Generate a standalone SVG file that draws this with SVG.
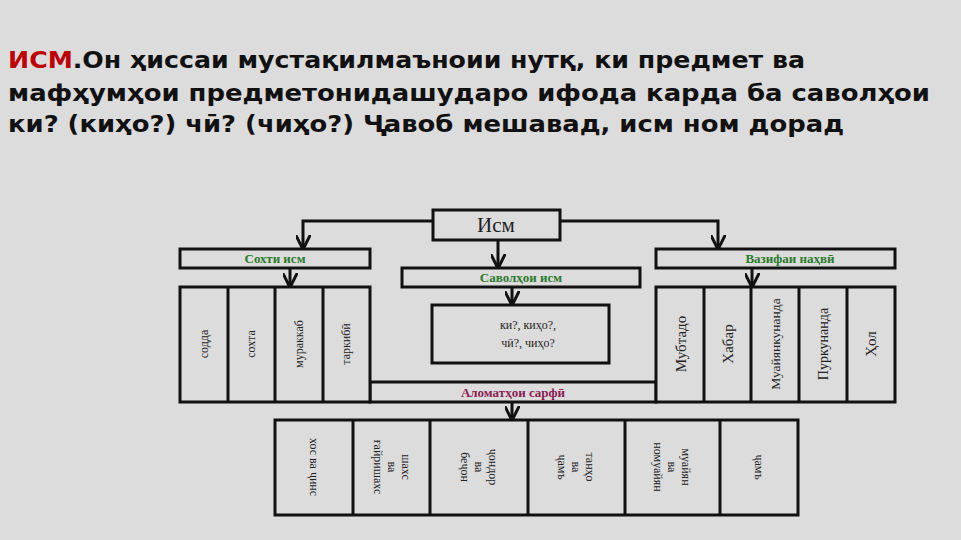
<svg xmlns="http://www.w3.org/2000/svg" width="961" height="540" viewBox="0 0 961 540">
<defs><marker id="ar" viewBox="0 0 10 10" refX="9" refY="5" markerWidth="5" markerHeight="5" orient="auto"><path d="M0,0 L10,5 L0,10" fill="none" stroke="#111" stroke-width="2"/></marker></defs>
<style>
.b{fill:#dcdcdc;stroke:#111;stroke-width:3}
.c{fill:none;stroke:#111;stroke-width:3;marker-end:url(#ar)}
.t{font-family:"Liberation Serif",serif;font-size:12px;fill:#222;text-anchor:middle}
.g{font-family:"Liberation Serif",serif;font-size:13px;fill:#2a7a2a;text-anchor:middle;font-weight:bold}
.h{font-family:"DejaVu Sans",sans-serif;font-size:23px;font-weight:bold;fill:#111}
.r{font-size:15px}
</style>
<rect width="961" height="540" fill="#dcdcdc"/>
<text class="h" x="8" y="68" textLength="797" lengthAdjust="spacingAndGlyphs"><tspan fill="#c00000">ИСМ</tspan>.Он ҳиссаи мустақилмаъноии нутқ, ки предмет ва</text>
<text class="h" x="8" y="101" textLength="922" lengthAdjust="spacingAndGlyphs">мафҳумҳои предметонидашударо ифода карда ба саволҳои</text>
<text class="h" x="8" y="132" textLength="836" lengthAdjust="spacingAndGlyphs">ки? (киҳо?) чӣ? (чиҳо?) Ҷавоб мешавад, исм ном дорад</text>
<g id="connectors">
<path class="c" d="M433,221 H303 V248"/>
<path class="c" d="M560,221 H718 V248"/>
<path class="c" d="M498,240 V267"/>
<path class="c" d="M290,268 V286"/>
<path class="c" d="M512,287 V304"/>
<path class="c" d="M752,268 V286"/>
<path class="c" d="M512,402 V419"/>
</g>
<g id="ism"><rect class="b" x="433" y="210" width="127" height="30"/><text class="t" x="496" y="232" style="font-size:21px">Исм</text></g>
<g id="sokht"><rect class="b" x="180" y="249" width="190" height="19"/><text class="g" x="275" y="263">Сохти исм</text></g>
<g id="savol"><rect class="b" x="402" y="268" width="238" height="19"/><text class="g" x="521" y="282">Саволҳои исм</text></g>
<g id="vazifa"><rect class="b" x="656" y="249" width="239" height="19"/><text class="g" x="790" y="263">Вазифаи наҳвӣ</text></g>
<g id="savolbox"><rect class="b" x="432" y="305" width="177" height="58"/><text class="t" x="528" y="329">ки?, киҳо?,</text><text class="t" x="528" y="347">чӣ?, чиҳо?</text></g>
<g id="alomat"><rect class="b" x="370" y="382" width="286" height="20"/><text class="g" x="513" y="397" style="fill:#8a2050">Аломатҳои сарфӣ</text></g>
<g id="left"><rect class="b" x="180" y="287" width="190" height="115"/><path d="M228,287V402M275,287V402M323,287V402" stroke="#111" stroke-width="3"/>
<text class="t" transform="translate(208,344) rotate(-90)">содда</text>
<text class="t" transform="translate(255,344) rotate(-90)">сохта</text>
<text class="t" transform="translate(303,344) rotate(-90)">мураккаб</text>
<text class="t" transform="translate(350,344) rotate(-90)">таркибӣ</text></g>
<g id="right"><rect class="b" x="656" y="287" width="239" height="115"/><path d="M704,287V402M751,287V402M799,287V402M847,287V402" stroke="#111" stroke-width="3"/>
<text class="t r" transform="translate(686,344) rotate(-90)">Мубтадо</text>
<text class="t r" transform="translate(733,344) rotate(-90)">Хабар</text>
<text class="t" style="font-size:13.5px" transform="translate(780,344) rotate(-90)">Муайянкунанда</text>
<text class="t" style="font-size:14px" transform="translate(828,344) rotate(-90)">Пуркунанда</text>
<text class="t r" transform="translate(876,344) rotate(-90)">Ҳол</text></g>
<g id="bottom"><rect class="b" x="275" y="420" width="523" height="95"/><path d="M353,420V515M430,420V515M528,420V515M625,420V515M720,420V515" stroke="#111" stroke-width="3"/>
<text class="t" transform="translate(310,467) rotate(90)">хос ва ҷинс</text>
<text class="t" transform="translate(392,467) rotate(90)"><tspan x="0" y="-10">шахс</tspan><tspan x="0" y="4">ва</tspan><tspan x="0" y="18">ғайришахс</tspan></text>
<text class="t" transform="translate(479,467) rotate(90)"><tspan x="0" y="-10">ҷондор</tspan><tspan x="0" y="4">ва</tspan><tspan x="0" y="18">беҷон</tspan></text>
<text class="t" transform="translate(576,467) rotate(90)"><tspan x="0" y="-10">танҳо</tspan><tspan x="0" y="4">ва</tspan><tspan x="0" y="18">ҷамъ</tspan></text>
<text class="t" transform="translate(672,467) rotate(90)"><tspan x="0" y="-10">муайян</tspan><tspan x="0" y="4">ва</tspan><tspan x="0" y="18">номуайян</tspan></text>
<text class="t" transform="translate(755,467) rotate(90)">ҷамъ</text></g>
</svg>
